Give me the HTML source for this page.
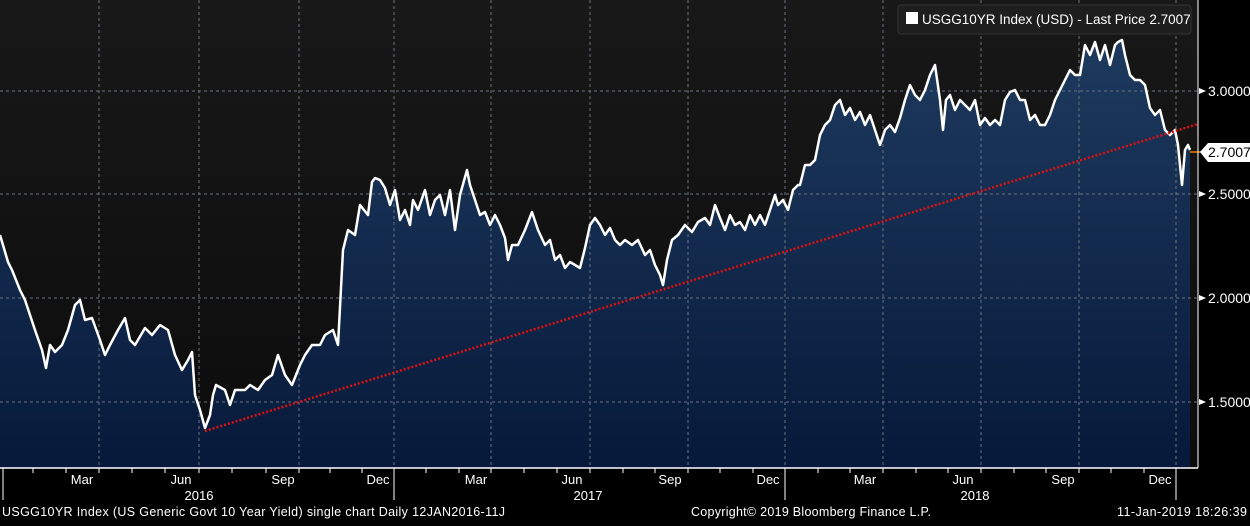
<!DOCTYPE html>
<html><head><style>
body{margin:0;background:#000;width:1250px;height:521px;overflow:hidden;font-family:"Liberation Sans",sans-serif}
</style></head><body>
<svg width="1250" height="521" xmlns="http://www.w3.org/2000/svg" font-family="Liberation Sans, sans-serif">
<defs>
<linearGradient id="g" x1="0" y1="0" x2="0" y2="1">
<stop offset="0" stop-color="#1d3a5e"/><stop offset="1" stop-color="#07193a"/>
</linearGradient>
<linearGradient id="bg" x1="0" y1="0" x2="0" y2="1">
<stop offset="0" stop-color="#181818"/><stop offset="1" stop-color="#0c0c0c"/>
</linearGradient>
</defs>
<rect x="0" y="0" width="1198" height="468" fill="url(#bg)"/>
<polygon fill="url(#g)" points="0,468 0,235 8,262 12,270 20,290 25,300 35,330 42,350 46,368 50,345 55,352 62,345 68,330 75,305 80,300 85,320 92,318 100,340 105,355 110,345 118,330 125,318 130,340 135,345 145,328 152,335 160,325 168,330 175,355 182,370 188,360 192,352 195,395 200,410 205,428 210,415 213,395 216,385 225,390 230,405 235,390 245,390 250,385 258,390 265,380 272,375 278,355 285,375 292,385 300,365 305,355 312,345 320,345 325,335 333,330 338,345 343,250 348,230 355,235 360,205 368,215 372,182 375,178 380,180 385,188 390,205 395,190 400,220 405,210 410,225 413,200 418,210 425,190 430,215 435,200 440,195 445,215 450,190 455,230 460,195 467,170 470,185 475,200 480,215 485,212 490,225 495,215 500,225 505,238 508,260 512,245 518,245 525,230 532,212 538,230 545,245 550,240 555,260 560,255 565,268 570,262 575,265 580,268 585,248 590,225 595,218 600,225 605,235 610,228 615,240 620,245 625,240 632,245 638,240 645,255 650,250 655,265 660,275 663,285 667,260 672,240 678,235 685,225 692,232 698,222 705,218 710,225 715,205 720,218 725,230 730,215 735,225 740,222 745,230 750,215 755,225 760,215 765,225 770,210 775,195 778,205 783,200 788,210 793,190 798,185 800,185 805,165 810,165 815,160 820,135 825,125 830,120 835,105 840,100 845,115 850,108 855,120 860,112 865,125 870,115 875,130 880,145 885,130 890,125 895,132 900,118 905,100 910,85 915,95 920,100 925,90 930,75 935,65 940,100 943,130 946,100 950,95 955,110 960,100 965,105 970,110 975,100 980,125 985,118 990,125 995,120 1000,125 1005,100 1010,92 1015,90 1020,100 1025,100 1030,120 1035,115 1040,125 1045,125 1050,115 1055,100 1060,90 1065,80 1070,70 1075,75 1080,75 1085,45 1090,55 1095,42 1100,60 1105,45 1110,65 1115,45 1118,42 1122,40 1125,55 1130,75 1135,80 1140,80 1145,85 1150,108 1155,115 1160,110 1165,130 1170,135 1175,130 1178,145 1182,185 1185,150 1188,145 1190,150 1190,468"/>
<g stroke="#6a7280" stroke-dasharray="3,3" stroke-width="1">
<line x1="99" y1="0" x2="99" y2="468"/><line x1="199" y1="0" x2="199" y2="468"/><line x1="299" y1="0" x2="299" y2="468"/><line x1="394" y1="0" x2="394" y2="468"/><line x1="491" y1="0" x2="491" y2="468"/><line x1="590" y1="0" x2="590" y2="468"/><line x1="688" y1="0" x2="688" y2="468"/><line x1="785" y1="0" x2="785" y2="468"/><line x1="883" y1="0" x2="883" y2="468"/><line x1="981" y1="0" x2="981" y2="468"/><line x1="1079" y1="0" x2="1079" y2="468"/><line x1="1176" y1="0" x2="1176" y2="468"/>
<line x1="0" y1="91" x2="1198" y2="91"/><line x1="0" y1="194" x2="1198" y2="194"/><line x1="0" y1="298" x2="1198" y2="298"/><line x1="0" y1="402" x2="1198" y2="402"/>
</g>
<polyline fill="none" stroke="#fff" stroke-width="2.5" stroke-linejoin="round" points="0,235 8,262 12,270 20,290 25,300 35,330 42,350 46,368 50,345 55,352 62,345 68,330 75,305 80,300 85,320 92,318 100,340 105,355 110,345 118,330 125,318 130,340 135,345 145,328 152,335 160,325 168,330 175,355 182,370 188,360 192,352 195,395 200,410 205,428 210,415 213,395 216,385 225,390 230,405 235,390 245,390 250,385 258,390 265,380 272,375 278,355 285,375 292,385 300,365 305,355 312,345 320,345 325,335 333,330 338,345 343,250 348,230 355,235 360,205 368,215 372,182 375,178 380,180 385,188 390,205 395,190 400,220 405,210 410,225 413,200 418,210 425,190 430,215 435,200 440,195 445,215 450,190 455,230 460,195 467,170 470,185 475,200 480,215 485,212 490,225 495,215 500,225 505,238 508,260 512,245 518,245 525,230 532,212 538,230 545,245 550,240 555,260 560,255 565,268 570,262 575,265 580,268 585,248 590,225 595,218 600,225 605,235 610,228 615,240 620,245 625,240 632,245 638,240 645,255 650,250 655,265 660,275 663,285 667,260 672,240 678,235 685,225 692,232 698,222 705,218 710,225 715,205 720,218 725,230 730,215 735,225 740,222 745,230 750,215 755,225 760,215 765,225 770,210 775,195 778,205 783,200 788,210 793,190 798,185 800,185 805,165 810,165 815,160 820,135 825,125 830,120 835,105 840,100 845,115 850,108 855,120 860,112 865,125 870,115 875,130 880,145 885,130 890,125 895,132 900,118 905,100 910,85 915,95 920,100 925,90 930,75 935,65 940,100 943,130 946,100 950,95 955,110 960,100 965,105 970,110 975,100 980,125 985,118 990,125 995,120 1000,125 1005,100 1010,92 1015,90 1020,100 1025,100 1030,120 1035,115 1040,125 1045,125 1050,115 1055,100 1060,90 1065,80 1070,70 1075,75 1080,75 1085,45 1090,55 1095,42 1100,60 1105,45 1110,65 1115,45 1118,42 1122,40 1125,55 1130,75 1135,80 1140,80 1145,85 1150,108 1155,115 1160,110 1165,130 1170,135 1175,130 1178,145 1182,185 1185,150 1188,145 1190,150"/>
<line x1="205" y1="431" x2="1198" y2="124" stroke="#e01010" stroke-width="2.5" stroke-dasharray="2,2"/>
<line x1="1190" y1="152" x2="1205" y2="152" stroke="#f08000" stroke-width="1.5"/>
<rect x="898" y="5" width="293" height="29" rx="3" fill="#1e1e1e" stroke="#333"/>
<rect x="906" y="12" width="12" height="12" fill="#fff"/>
<text x="922" y="24" fill="#fff" font-size="13.5">USGG10YR Index (USD) - Last Price 2.7007</text>
<line x1="1198" y1="0" x2="1198" y2="468" stroke="#fff"/>
<g fill="#fff" font-size="14">
<polygon points="1199,88 1206,91 1199,94"/><text x="1208" y="96">3.0000</text>
<polygon points="1199,191 1206,194 1199,197"/><text x="1208" y="199">2.5000</text>
<polygon points="1199,295 1206,298 1199,301"/><text x="1208" y="303">2.0000</text>
<polygon points="1199,399 1206,402 1199,405"/><text x="1208" y="407">1.5000</text>
</g>
<polygon points="1200,152 1208,143 1250,143 1250,162 1208,162" fill="#fff"/>
<text x="1208" y="157" fill="#000" font-size="14">2.7007</text>
<line x1="0" y1="468" x2="1198" y2="468" stroke="#fff" stroke-width="1.5"/>
<g stroke="#fff">
<line x1="3" y1="468" x2="3" y2="500"/><line x1="394" y1="468" x2="394" y2="500"/><line x1="785" y1="468" x2="785" y2="500"/><line x1="1176" y1="468" x2="1176" y2="500"/>
<line x1="33" y1="468" x2="33" y2="473"/><line x1="66" y1="468" x2="66" y2="473"/><line x1="99" y1="468" x2="99" y2="473"/><line x1="132" y1="468" x2="132" y2="473"/><line x1="165" y1="468" x2="165" y2="473"/><line x1="199" y1="468" x2="199" y2="473"/><line x1="232" y1="468" x2="232" y2="473"/><line x1="266" y1="468" x2="266" y2="473"/><line x1="299" y1="468" x2="299" y2="473"/><line x1="330" y1="468" x2="330" y2="473"/><line x1="362" y1="468" x2="362" y2="473"/>
<line x1="426" y1="468" x2="426" y2="473"/><line x1="459" y1="468" x2="459" y2="473"/><line x1="491" y1="468" x2="491" y2="473"/><line x1="524" y1="468" x2="524" y2="473"/><line x1="557" y1="468" x2="557" y2="473"/><line x1="590" y1="468" x2="590" y2="473"/><line x1="623" y1="468" x2="623" y2="473"/><line x1="655" y1="468" x2="655" y2="473"/><line x1="688" y1="468" x2="688" y2="473"/><line x1="720" y1="468" x2="720" y2="473"/><line x1="753" y1="468" x2="753" y2="473"/>
<line x1="818" y1="468" x2="818" y2="473"/><line x1="850" y1="468" x2="850" y2="473"/><line x1="883" y1="468" x2="883" y2="473"/><line x1="916" y1="468" x2="916" y2="473"/><line x1="948" y1="468" x2="948" y2="473"/><line x1="981" y1="468" x2="981" y2="473"/><line x1="1014" y1="468" x2="1014" y2="473"/><line x1="1046" y1="468" x2="1046" y2="473"/><line x1="1079" y1="468" x2="1079" y2="473"/><line x1="1111" y1="468" x2="1111" y2="473"/><line x1="1144" y1="468" x2="1144" y2="473"/>
</g>
<g fill="#fff" font-size="13" text-anchor="middle">
<text x="82" y="484">Mar</text><text x="181" y="484">Jun</text><text x="283" y="484">Sep</text><text x="378" y="484">Dec</text>
<text x="476" y="484">Mar</text><text x="572" y="484">Jun</text><text x="670" y="484">Sep</text><text x="768" y="484">Dec</text>
<text x="865" y="484">Mar</text><text x="963" y="484">Jun</text><text x="1063" y="484">Sep</text><text x="1160" y="484">Dec</text>
<text x="199" y="500">2016</text><text x="588" y="500">2017</text><text x="975" y="500">2018</text>
</g>
<g fill="#fff" font-size="12.5">
<text x="2" y="516" textLength="503">USGG10YR Index (US Generic Govt 10 Year Yield) single chart  Daily 12JAN2016-11J</text>
<text x="691" y="516" textLength="240">Copyright© 2019 Bloomberg Finance L.P.</text>
<text x="1117" y="516" textLength="130">11-Jan-2019 18:26:39</text>
</g>
</svg>
</body></html>
